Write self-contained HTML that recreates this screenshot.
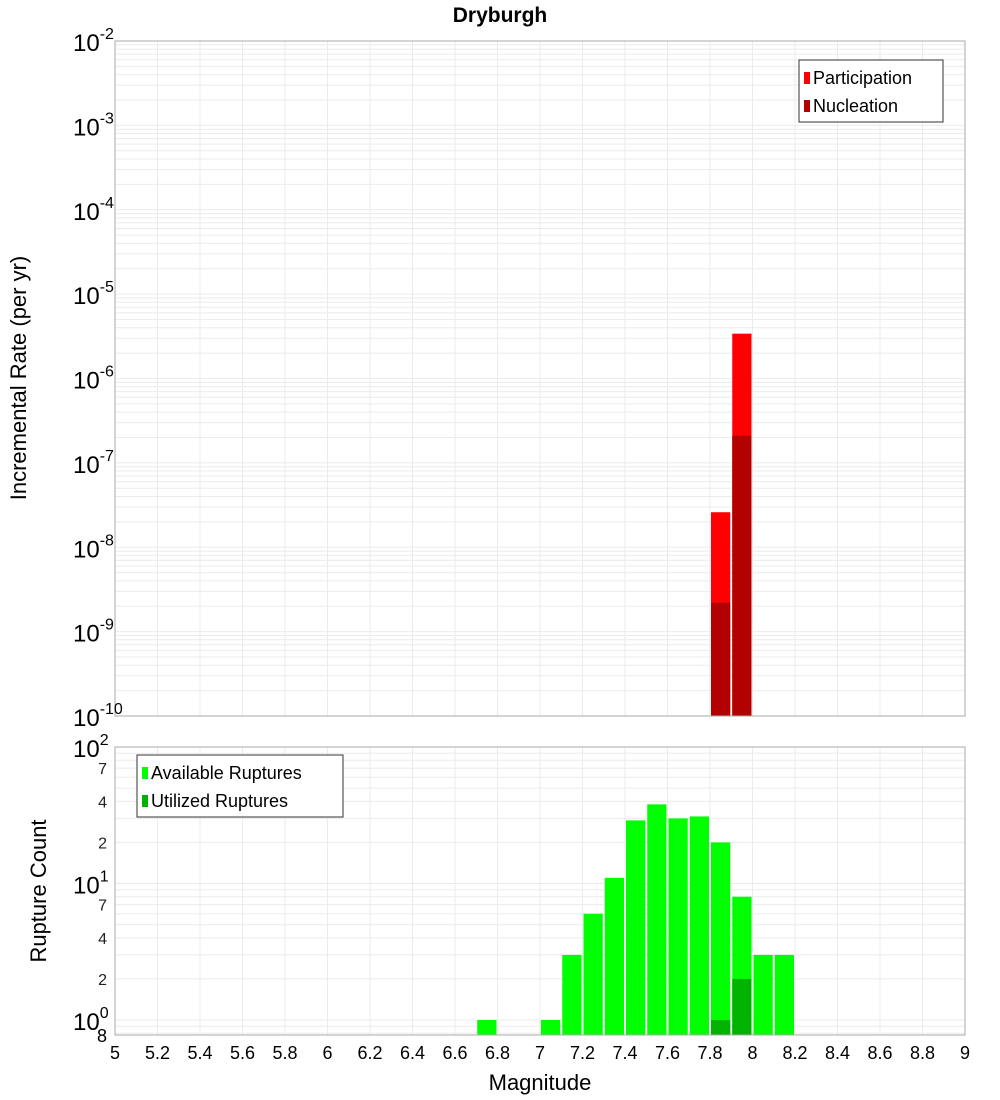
<!DOCTYPE html>
<html><head><meta charset="utf-8"><style>
body{margin:0;background:#fff;}
svg{display:block;font-family:"Liberation Sans","DejaVu Sans",sans-serif;}
</style></head><body>
<svg id="chart" width="1000" height="1100" xmlns="http://www.w3.org/2000/svg">
<text x="500" y="22" text-anchor="middle" font-size="21" font-weight="bold">Dryburgh</text>
<g id="top"></g><g id="bot"></g>
<text transform="translate(26,378) rotate(-90)" text-anchor="middle" font-size="22">Incremental Rate (per yr)</text>
<text transform="translate(46,891) rotate(-90)" text-anchor="middle" font-size="22">Rupture Count</text>
<text x="540" y="1090" text-anchor="middle" font-size="22">Magnitude</text>
</svg>
<script>
const magBins=[7.85,7.95];
const participation=[2.6e-8,3.4e-6];
const nucleation=[2.2e-9,2.1e-7];
const countBins=[6.75,7.05,7.15,7.25,7.35,7.45,7.55,7.65,7.75,7.85,7.95,8.05,8.15];
const available=[1,1,3,6,11,29,38,30,31,20,8,3,3];
const utilBins=[7.85,7.95];
const utilized=[1,2];
const xTicks=["5","5.2","5.4","5.6","5.8","6","6.2","6.4","6.6","6.8","7","7.2","7.4","7.6","7.8","8","8.2","8.4","8.6","8.8","9"];

const NS="http://www.w3.org/2000/svg";
const svg=document.getElementById('chart');
const L=115,R=965;
const xs=m=>L+(m-5)*(R-L)/4;
const T1=41,B1=716,yTop=v=>T1+(-2-Math.log10(v))*(B1-T1)/8;
const T2=747,B2=1035,yBot=v=>T2+(2-Math.log10(v))*136.5;
function mk(tag,attrs,parent){const e=document.createElementNS(NS,tag);for(const k in attrs)e.setAttribute(k,attrs[k]);(parent||svg).appendChild(e);return e;}
const gt=document.getElementById('top'),gb=document.getElementById('bot');
// grids
function grid(g,T,B,yf,dmin,dmax){
  for(let i=0;i<xTicks.length;i++){const x=xs(+xTicks[i]);
    const l=mk('line',{x1:x,x2:x,y1:T,y2:B,stroke:'#ebebeb'},g);
    }
  for(let d=dmin;d<dmax;d++)for(let k=1;k<10;k++){const y=yf(k*Math.pow(10,d));if(y<T||y>B)continue;
    const l=mk('line',{x1:L,x2:R,y1:y,y2:y,stroke:'#ebebeb'},g);
    }
}
grid(gt,T1,B1,yTop,-10,-2);
grid(gb,T2,B2,yBot,-1,2);
// top bars
const bw=(R-L)/40-2;
for(let i=0;i<magBins.length;i++){const x=xs(magBins[i])-bw/2;
  let r=mk('rect',{x:x,y:yTop(participation[i]),width:bw,height:B1-yTop(participation[i]),fill:'#ff0000'},gt);
  
  r=mk('rect',{x:x,y:yTop(nucleation[i]),width:bw,height:B1-yTop(nucleation[i]),fill:'#b30000'},gt);
  }
// bottom bars
for(let i=0;i<countBins.length;i++){const x=xs(countBins[i])-bw/2;
  const r=mk('rect',{x:x,y:yBot(available[i]),width:bw,height:B2-yBot(available[i]),fill:'#00ff00'},gb);
  }
for(let i=0;i<utilBins.length;i++){const x=xs(utilBins[i])-bw/2;
  const r=mk('rect',{x:x,y:yBot(utilized[i]),width:bw,height:B2-yBot(utilized[i]),fill:'#00b300'},gb);
  }
// frames
let f=mk('rect',{x:L,y:T1,width:R-L,height:B1-T1,fill:'none',stroke:'#aaa'},gt);

f=mk('rect',{x:L,y:T2,width:R-L,height:B2-T2,fill:'none',stroke:'#aaa'},gb);

// y labels top
function pow(g,y,exp,nm){const t=mk('text',{x:107,y:y+10,'text-anchor':'end','font-size':24},g);
  
  t.textContent='10';const s=mk('tspan',{'font-size':16,dy:-12},t);s.textContent=exp;
  t.setAttribute('x',73+ (exp.length>2?0:0));t.setAttribute('text-anchor','start');}
for(let d=-2;d>=-10;d--)pow(gt,yTop(Math.pow(10,d)),String(d),'top-y-tick-label');
for(let d=2;d>=0;d--)pow(gb,yBot(Math.pow(10,d)),String(d),'bottom-y-tick-label');
for(const d of [0,1])for(const k of [2,4,7]){const t=mk('text',{x:107,y:yBot(k*Math.pow(10,d))+6,'text-anchor':'end','font-size':16,fill:'#222'},gb);
  t.textContent=k;}
let t8=mk('text',{x:107,y:1042,'text-anchor':'end','font-size':18},gb);
t8.textContent='8';
// x labels
for(const v of xTicks){const t=mk('text',{x:xs(+v),y:1059,'text-anchor':'middle','font-size':18},gb);
  t.textContent=v;}
// legends
function legend(g,x,y,w,items,nm){const grp=mk('g',{},g);
  mk('rect',{x:x,y:y,width:w,height:items.length*28+6,fill:'#fff',stroke:'#333'},grp);
  items.forEach((it,i)=>{mk('rect',{x:x+5,y:y+12+i*28,width:6,height:12,fill:it[1]},grp);
    const t=mk('text',{x:x+14,y:y+24+i*28,'font-size':18},grp);t.textContent=it[0];
    });}
legend(gt,799,60,144,[["Participation","#ff0000"],["Nucleation","#b30000"]],'top-legend');
legend(gb,137,755,206,[["Available Ruptures","#00ff00"],["Utilized Ruptures","#00b300"]],'bottom-legend');
</script>
</body></html>
